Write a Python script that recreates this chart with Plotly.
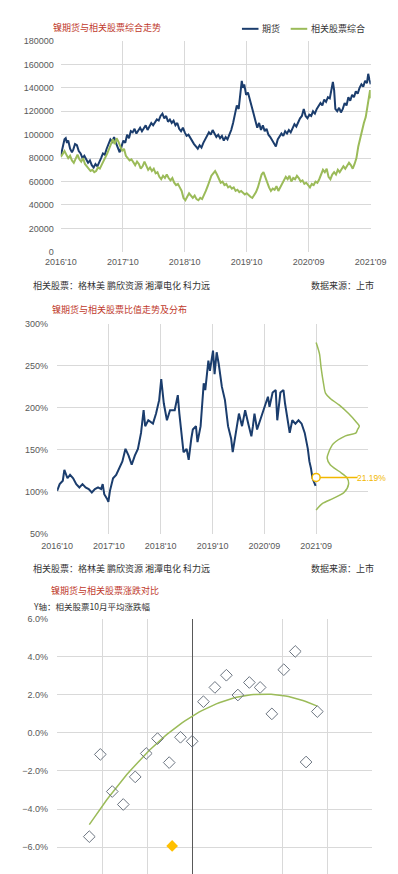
import numpy as np
import plotly.graph_objects as go

W, H = 398, 874

# ---------------- DATA ----------------
x_tick_labels = ["2016'10", "2017'10", "2018'10", "2019'10", "2020'09", "2021'09"]

futures_t = [0, 0.03, 0.06, 0.08, 0.10, 0.12, 0.15, 0.18, 0.20, 0.23, 0.26, 0.29, 0.32, 0.35, 0.38, 0.41,
             0.44, 0.47, 0.50, 0.53, 0.56, 0.59, 0.62, 0.65, 0.68, 0.71, 0.74, 0.77, 0.80, 0.83, 0.86, 0.89,
             0.92, 0.95, 0.98, 1.01, 1.04, 1.07, 1.10, 1.13, 1.16, 1.19, 1.22, 1.25, 1.28, 1.31, 1.34, 1.37,
             1.40, 1.43, 1.46, 1.49, 1.52, 1.55, 1.58, 1.61, 1.64, 1.67, 1.70, 1.73, 1.76, 1.79, 1.82, 1.85,
             1.88, 1.91, 1.94, 1.97, 2.00, 2.03, 2.06, 2.09, 2.12, 2.15, 2.18, 2.21, 2.24, 2.27, 2.30, 2.33,
             2.36, 2.39, 2.42, 2.45, 2.48, 2.51, 2.54, 2.57, 2.60, 2.63, 2.66, 2.69, 2.72, 2.75, 2.78, 2.81,
             2.84, 2.87, 2.90, 2.92, 2.94, 2.96, 2.99, 3.02, 3.05, 3.08, 3.11, 3.14, 3.17, 3.20, 3.23, 3.26,
             3.29, 3.32, 3.35, 3.38, 3.41, 3.44, 3.47, 3.50, 3.53, 3.56, 3.59, 3.62, 3.65, 3.68, 3.71, 3.74,
             3.77, 3.80, 3.83, 3.86, 3.89, 3.92, 3.95, 3.98, 4.01, 4.04, 4.07, 4.10, 4.13, 4.16, 4.19, 4.22,
             4.25, 4.28, 4.31, 4.34, 4.37, 4.39, 4.41, 4.43, 4.46, 4.49, 4.52, 4.55, 4.58, 4.61, 4.64, 4.67,
             4.70, 4.73, 4.76, 4.79, 4.82, 4.85, 4.88, 4.91, 4.94, 4.96, 4.98, 5.00]
futures_val = [82000, 90000, 96000, 97000, 93000, 95000, 88000, 85000, 87000, 92000, 91000, 86000, 84000, 80000, 82000, 79000,
               76000, 78000, 74000, 72000, 75000, 73000, 76000, 80000, 84000, 83000, 88000, 92000, 96000, 94000, 98000, 93000,
               88000, 85000, 90000, 95000, 93000, 100000, 97000, 103000, 102000, 105000, 101000, 104000, 106000, 103000, 105000, 108000,
               104000, 107000, 110000, 108000, 111000, 113000, 112000, 116000, 118000, 114000, 116000, 111000, 113000, 110000, 112000, 108000,
               110000, 105000, 103000, 106000, 102000, 99000, 100000, 97000, 95000, 92000, 90000, 88000, 91000, 89000, 93000, 96000,
               99000, 102000, 100000, 104000, 101000, 98000, 100000, 97000, 99000, 95000, 98000, 96000, 100000, 104000, 110000, 118000,
               125000, 122000, 138000, 146000, 140000, 143000, 134000, 136000, 130000, 125000, 118000, 112000, 106000, 110000, 104000, 108000,
               103000, 105000, 100000, 98000, 95000, 92000, 90000, 96000, 99000, 101000, 99000, 103000, 101000, 104000, 102000, 106000,
               109000, 107000, 111000, 114000, 116000, 122000, 116000, 114000, 117000, 116000, 120000, 118000, 122000, 124000, 127000, 125000,
               130000, 128000, 132000, 131000, 140000, 145000, 138000, 122000, 120000, 123000, 119000, 122000, 127000, 125000, 132000, 129000,
               134000, 132000, 137000, 135000, 140000, 143000, 141000, 146000, 144000, 152000, 147000, 143000]

stocks_t = [0, 0.03, 0.06, 0.09, 0.12, 0.15, 0.18, 0.21, 0.24, 0.27, 0.30, 0.33, 0.36, 0.39, 0.42, 0.45,
            0.48, 0.51, 0.54, 0.57, 0.60, 0.63, 0.66, 0.69, 0.72, 0.75, 0.78, 0.81, 0.84, 0.87, 0.90, 0.93,
            0.96, 0.99, 1.02, 1.05, 1.08, 1.11, 1.14, 1.17, 1.20, 1.23, 1.26, 1.29, 1.32, 1.35, 1.38, 1.41,
            1.44, 1.47, 1.50, 1.53, 1.56, 1.59, 1.62, 1.65, 1.68, 1.71, 1.74, 1.77, 1.80, 1.83, 1.86, 1.89,
            1.92, 1.95, 1.98, 2.01, 2.04, 2.07, 2.10, 2.13, 2.16, 2.19, 2.22, 2.25, 2.28, 2.31, 2.34, 2.37,
            2.40, 2.43, 2.46, 2.49, 2.52, 2.55, 2.58, 2.61, 2.64, 2.67, 2.70, 2.73, 2.76, 2.79, 2.82, 2.85,
            2.88, 2.91, 2.94, 2.97, 3.00, 3.03, 3.06, 3.09, 3.12, 3.15, 3.18, 3.21, 3.24, 3.27, 3.30, 3.33,
            3.36, 3.39, 3.42, 3.45, 3.48, 3.51, 3.54, 3.57, 3.60, 3.63, 3.66, 3.69, 3.72, 3.75, 3.78, 3.81,
            3.84, 3.87, 3.90, 3.93, 3.96, 3.99, 4.02, 4.05, 4.08, 4.11, 4.14, 4.17, 4.20, 4.23, 4.26, 4.29,
            4.32, 4.35, 4.38, 4.41, 4.44, 4.47, 4.50, 4.53, 4.56, 4.59, 4.62, 4.65, 4.68, 4.71, 4.74, 4.77,
            4.80, 4.83, 4.86, 4.89, 4.92, 4.95, 4.97, 4.99, 5.00]
stocks_val = [81000, 84000, 86000, 83000, 80000, 82000, 78000, 76000, 80000, 83000, 79000, 77000, 80000, 75000, 73000, 71000,
              69000, 70000, 68000, 69000, 72000, 71000, 74000, 77000, 80000, 84000, 88000, 93000, 96000, 92000, 97000, 94000,
              90000, 86000, 88000, 82000, 80000, 78000, 79000, 76000, 74000, 77000, 75000, 71000, 73000, 77000, 74000, 70000,
              72000, 69000, 71000, 67000, 68000, 64000, 62000, 65000, 63000, 66000, 63000, 61000, 63000, 59000, 57000, 58000,
              55000, 52000, 46000, 44000, 47000, 50000, 48000, 46000, 48000, 45000, 44000, 46000, 45000, 48000, 52000, 56000,
              60000, 65000, 67000, 69000, 66000, 62000, 59000, 60000, 57000, 58000, 55000, 56000, 54000, 55000, 52000, 53000,
              51000, 52000, 50000, 49000, 50000, 48000, 47000, 46000, 48000, 51000, 55000, 60000, 66000, 68000, 63000, 58000,
              55000, 52000, 54000, 53000, 56000, 52000, 55000, 57000, 60000, 64000, 62000, 65000, 60000, 63000, 62000, 65000,
              63000, 60000, 61000, 58000, 59000, 57000, 55000, 58000, 57000, 60000, 59000, 62000, 66000, 70000, 68000, 71000,
              64000, 62000, 66000, 68000, 66000, 70000, 68000, 71000, 73000, 71000, 74000, 76000, 74000, 71000, 75000, 80000,
              90000, 97000, 103000, 110000, 115000, 124000, 132000, 138000, 131000]

ratio_t = [0, 0.05, 0.11, 0.14, 0.20, 0.25, 0.31, 0.37, 0.43, 0.49, 0.55, 0.61, 0.67, 0.73, 0.79, 0.85,
           0.88, 0.91, 0.96, 0.99, 1.02, 1.08, 1.14, 1.20, 1.26, 1.32, 1.38, 1.44, 1.50, 1.56, 1.62, 1.67,
           1.70, 1.76, 1.85, 1.91, 1.97, 2.01, 2.06, 2.12, 2.18, 2.27, 2.33, 2.36, 2.41, 2.44, 2.50, 2.54,
           2.59, 2.62, 2.68, 2.71, 2.77, 2.83, 2.86, 2.92, 2.95, 3.01, 3.04, 3.08, 3.12, 3.18, 3.24, 3.30,
           3.36, 3.39, 3.45, 3.51, 3.57, 3.63, 3.69, 3.75, 3.78, 3.81, 3.86, 3.92, 3.98, 4.07, 4.10, 4.16,
           4.22, 4.25, 4.31, 4.37, 4.40, 4.46, 4.49, 4.54, 4.60, 4.66, 4.72, 4.78, 4.81, 4.84, 4.87, 4.90,
           4.93, 4.96, 4.99]
ratio_val = [101, 109, 113, 126, 116, 120, 116, 109, 105, 109, 105, 103, 99, 103, 105, 103,
             109, 97, 92, 88, 101, 116, 120, 128, 136, 151, 143, 132, 143, 151, 170, 197,
             178, 185, 181, 193, 209, 234, 205, 185, 197, 197, 215, 193, 163, 147, 151, 138,
             163, 174, 178, 159, 178, 229, 221, 256, 244, 268, 240, 266, 252, 225, 209, 178,
             163, 147, 170, 193, 178, 197, 181, 166, 178, 193, 174, 185, 197, 213, 201, 218,
             221, 185, 218, 221, 205, 178, 170, 185, 181, 185, 181, 170, 160, 151, 136, 128,
             116, 111, 107]

dist_level = [277.6, 264, 248, 229, 217, 211, 203, 193, 183, 178, 174, 170, 166.5, 157, 147, 140,
              132, 124, 116.5, 109, 99, 92, 86, 80, 78]
dist_density = [0.0, 0.065, 0.095, 0.142, 0.183, 0.272, 0.449, 0.626, 0.774, 0.833, 0.80, 0.77, 0.567, 0.331, 0.243, 0.213,
                0.272, 0.449, 0.597, 0.626, 0.538, 0.331, 0.124, 0.024, 0.0]
current_ratio = 117
current_label = "21.19%"

scatter_x = [-4.57, -4.08, -3.55, -3.06, -2.53, -2.04, -1.54, -1.02, -0.52, 0.0, 0.50,
             1.01, 1.52, 2.03, 2.54, 3.02, 3.54, 4.07, 4.58, 5.06, 5.56]
scatter_y = [-5.45, -1.13, -3.08, -3.76, -2.31, -1.08, -0.30, -1.56, -0.23, -0.44, 1.64,
             2.39, 3.03, 1.99, 2.65, 2.39, 1.00, 3.32, 4.28, -1.53, 1.12]
current_x = [-0.89]
current_y = [-5.94]

# ---------------- STYLE ----------------
FONT = "Liberation Sans, Noto Sans CJK SC, sans-serif"
CJK = "Noto Sans CJK SC, sans-serif"
BLUE = "#1b3d6d"
GREEN = "#9bbb59"
GOLD = "#f2b800"
RED = "#c0392b"
GRID = "#d9d9d9"
TICK = "#595959"

def px_x(p):
    return p / W

def px_y(p):
    return 1 - p / H

fig = go.Figure()

# Panel 1
fig.add_trace(go.Scatter(x=futures_t, y=futures_val, mode="lines", line=dict(color=BLUE, width=2),
                         xaxis="x", yaxis="y", showlegend=False))
fig.add_trace(go.Scatter(x=stocks_t, y=stocks_val, mode="lines", line=dict(color=GREEN, width=2),
                         xaxis="x", yaxis="y", showlegend=False))

# Panel 2
fig.add_trace(go.Scatter(x=ratio_t, y=ratio_val, mode="lines", line=dict(color=BLUE, width=2),
                         xaxis="x2", yaxis="y2", showlegend=False))
fig.add_trace(go.Scatter(x=[5 + d for d in dist_density], y=dist_level, mode="lines",
                         line=dict(color=GREEN, width=1.5, shape="spline", smoothing=0.8),
                         xaxis="x2", yaxis="y2", showlegend=False))
fig.add_trace(go.Scatter(x=[5, 5.8], y=[current_ratio, current_ratio], mode="lines",
                         line=dict(color=GOLD, width=1.5), xaxis="x2", yaxis="y2", showlegend=False))
fig.add_trace(go.Scatter(x=[5], y=[current_ratio], mode="markers",
                         marker=dict(symbol="circle", size=8, color="white", line=dict(color=GOLD, width=1.5)),
                         xaxis="x2", yaxis="y2", showlegend=False))

# Panel 3
coef = np.polyfit(scatter_x, scatter_y, 2)
fx = np.linspace(min(scatter_x), max(scatter_x), 80)
fig.add_trace(go.Scatter(x=fx, y=np.polyval(coef, fx), mode="lines", line=dict(color=GREEN, width=1.5),
                         xaxis="x3", yaxis="y3", showlegend=False))
fig.add_trace(go.Scatter(x=scatter_x, y=scatter_y, mode="markers",
                         marker=dict(symbol="diamond-open", size=9, color="#6b7480", line=dict(width=1)),
                         xaxis="x3", yaxis="y3", showlegend=False))
fig.add_trace(go.Scatter(x=current_x, y=current_y, mode="markers",
                         marker=dict(symbol="diamond", size=9, color="#ffc000"),
                         xaxis="x3", yaxis="y3", showlegend=False))

tickfont = dict(family=FONT, size=9, color=TICK)

fig.update_layout(
    width=W, height=H, margin=dict(l=0, r=0, t=0, b=0),
    paper_bgcolor="white", plot_bgcolor="white",
    font=dict(family=FONT),
    xaxis=dict(domain=[px_x(40), px_x(377)], range=[0, 5], tickvals=[0, 1, 2, 3, 4, 5], ticktext=x_tick_labels,
               showgrid=True, gridcolor=GRID, gridwidth=1, zeroline=False, showline=False, ticks="",
               tickfont=tickfont, anchor="y", ticklabelstandoff=3),
    yaxis=dict(domain=[px_y(241.6), px_y(28.3)], range=[0, 180000], dtick=20000, tickformat="d",
               showgrid=True, gridcolor=GRID, zeroline=False, showline=False, ticks="",
               tickfont=tickfont, anchor="x", ticklabelstandoff=6),
    xaxis2=dict(domain=[px_x(36), px_x(374)], range=[0, 6], tickvals=[0, 1, 2, 3, 4, 5, 6],
                ticktext=x_tick_labels + [""],
                showgrid=True, gridcolor=GRID, zeroline=False, showline=False, ticks="",
                tickfont=tickfont, anchor="y2", ticklabelstandoff=5),
    yaxis2=dict(domain=[px_y(526.7), px_y(314.3)], range=[50, 300], dtick=50, ticksuffix="%",
                showgrid=True, gridcolor=GRID, zeroline=False, showline=False, ticks="",
                tickfont=tickfont, anchor="x2", ticklabelstandoff=8),
    xaxis3=dict(domain=[px_x(36), px_x(378.7)], range=[-6, 8], tickvals=[-6, -4, -2, 0, 4, 6, 8],
                showticklabels=False,
                showgrid=True, gridcolor=GRID, zeroline=True, zerolinecolor="#595959", zerolinewidth=1,
                showline=False, ticks="", anchor="y3"),
    yaxis3=dict(domain=[0, px_y(612.7)], range=[-7.57, 6], dtick=2, tickformat=".1f", ticksuffix="%",
                showgrid=True, gridcolor=GRID, zeroline=False, showline=False, ticks="",
                tickfont=tickfont, anchor="x3", ticklabelstandoff=8),
)

anns = []
def text(x, y, s, color="#333333", size=9, xanchor="left", family=CJK):
    anns.append(dict(x=px_x(x), y=px_y(y), xref="paper", yref="paper", text=s, showarrow=False,
                     xanchor=xanchor, yanchor="middle", font=dict(family=family, size=size, color=color)))

# titles
text(29, 15, "镍期货与相关股票综合走势", RED, 9)
text(28, 300, "镍期货与相关股票比值走势及分布", RED, 9)
text(27, 584, "镍期货与相关股票涨跌对比", RED, 9)
text(8, 600, "Y轴：相关股票10月平均涨跌幅", "#333333", 8.5)

# footnotes
for yy in (276, 562):
    text(8, yy, "相关股票：格林美 鹏欣资源 湘潭电化 科力远", "#333333", 9)
    text(383, yy, "数据来源：上市", "#333333", 9, xanchor="right")

# legend (panel 1)
text(257, 16, "期货", "#333333", 9)
text(310, 16, "相关股票综合", "#333333", 9)

# current ratio label
text(396, 470, current_label, GOLD, 8.5, xanchor="right", family=FONT)

fig.update_layout(annotations=anns)

fig.add_shape(type="line", xref="paper", yref="paper", x0=px_x(237), x1=px_x(255), y0=px_y(16), y1=px_y(16),
              line=dict(color=BLUE, width=2))
fig.add_shape(type="line", xref="paper", yref="paper", x0=px_x(290), x1=px_x(308), y0=px_y(16), y1=px_y(16),
              line=dict(color=GREEN, width=2))

fig.write_html("out.html")
